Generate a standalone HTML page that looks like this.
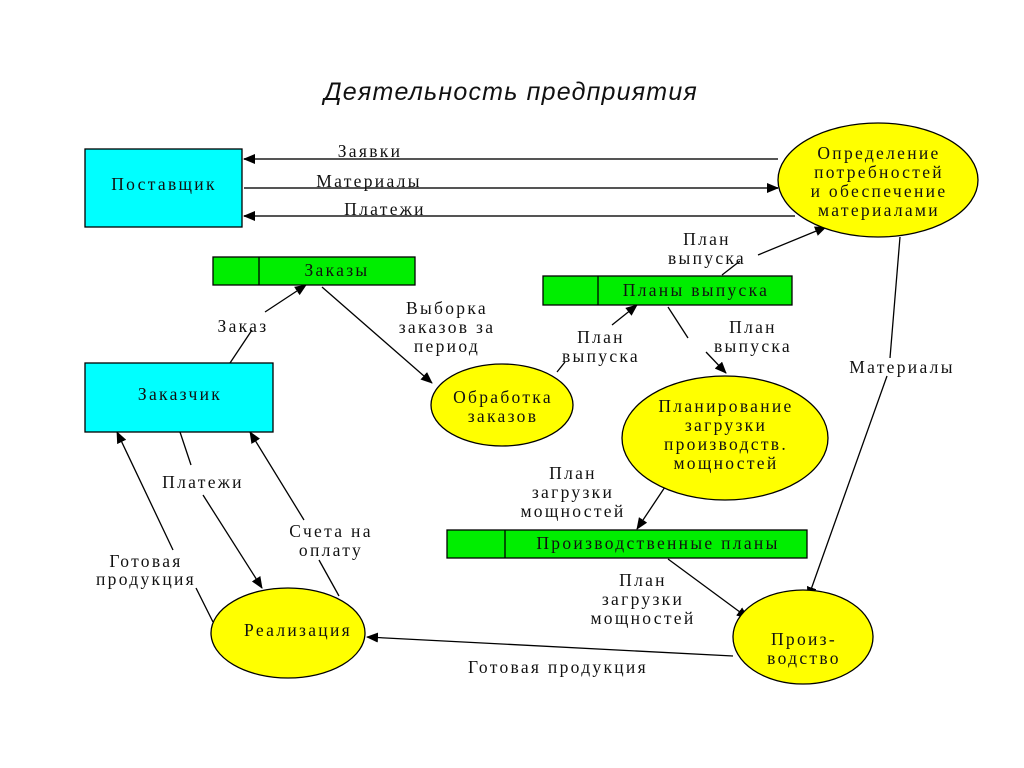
<!DOCTYPE html>
<html><head><meta charset="utf-8"><style>
html,body{margin:0;padding:0;background:#fff;}
svg{display:block;}
text{font-family:"Liberation Serif","DejaVu Serif",serif;font-size:17.5px;fill:#111;letter-spacing:2.3px;}
.t{font-family:"Liberation Sans",sans-serif;font-style:italic;font-size:25px;letter-spacing:1.2px;}
</style></head><body>
<svg width="1024" height="768" viewBox="0 0 1024 768">
<defs>
<marker id="a" markerWidth="12" markerHeight="10" refX="11" refY="5" orient="auto" markerUnits="userSpaceOnUse">
<path d="M0,0 L12,5 L0,10 z" fill="#000"/></marker>
</defs>
<text class="t" x="511" y="100" text-anchor="middle">Деятельность предприятия</text>

<g stroke="#000" stroke-width="1.3" fill="none">
<line x1="778" y1="159" x2="244" y2="159" marker-end="url(#a)" stroke="#555" stroke-width="2"/>
<line x1="244" y1="188" x2="778" y2="188" marker-end="url(#a)" stroke="#555" stroke-width="2"/>
<line x1="795" y1="216" x2="244" y2="216" marker-end="url(#a)" stroke="#555" stroke-width="2"/>
<polyline points="722,275 740,261"/>
<line x1="758" y1="255" x2="826" y2="227" marker-end="url(#a)"/>
<line x1="230" y1="363" x2="252" y2="330"/>
<line x1="265" y1="312" x2="306" y2="285" marker-end="url(#a)"/>
<line x1="322" y1="287" x2="432" y2="383" marker-end="url(#a)"/>
<line x1="557" y1="372" x2="565" y2="362"/>
<line x1="612" y1="325" x2="637" y2="305" marker-end="url(#a)"/>
<line x1="668" y1="307" x2="688" y2="338"/>
<line x1="706" y1="352" x2="726" y2="373" marker-end="url(#a)"/>
<line x1="900" y1="237" x2="890" y2="358"/>
<line x1="887" y1="376" x2="808" y2="598" marker-end="url(#a)"/>
<line x1="667" y1="484" x2="637" y2="529" marker-end="url(#a)"/>
<line x1="668" y1="559" x2="748" y2="618" marker-end="url(#a)"/>
<line x1="733" y1="656" x2="367" y2="637" marker-end="url(#a)"/>
<line x1="213" y1="622" x2="196" y2="588"/>
<line x1="173" y1="550" x2="117" y2="432" marker-end="url(#a)"/>
<line x1="180" y1="432" x2="191" y2="465"/>
<line x1="203" y1="495" x2="262" y2="588" marker-end="url(#a)"/>
<line x1="339" y1="596" x2="319" y2="560"/>
<line x1="304" y1="520" x2="250" y2="432" marker-end="url(#a)"/>
</g>

<g stroke="#000" stroke-width="1.3">
<rect x="85" y="149" width="157" height="78" fill="#00ffff"/>
<rect x="85" y="363" width="188" height="69" fill="#00ffff"/>
<rect x="213" y="257" width="202" height="28" fill="#00ee00"/>
<line x1="259" y1="257" x2="259" y2="285"/>
<rect x="543" y="276" width="249" height="29" fill="#00ee00"/>
<line x1="598" y1="276" x2="598" y2="305"/>
<rect x="447" y="530" width="360" height="28" fill="#00ee00"/>
<line x1="505" y1="530" x2="505" y2="558"/>
<ellipse cx="878" cy="180" rx="100" ry="57" fill="#ffff00"/>
<ellipse cx="502" cy="405" rx="71" ry="41" fill="#ffff00"/>
<ellipse cx="725" cy="438" rx="103" ry="62" fill="#ffff00"/>
<ellipse cx="288" cy="633" rx="77" ry="45" fill="#ffff00"/>
<ellipse cx="803" cy="637" rx="70" ry="47" fill="#ffff00"/>
</g>

<g text-anchor="middle">
<text x="164" y="190">Поставщик</text>
<text x="180" y="400">Заказчик</text>
<text x="337" y="276">Заказы</text>
<text x="696" y="296">Планы выпуска</text>
<text x="658" y="549">Производственные планы</text>
<text x="879" y="159">Определение</text>
<text x="879" y="178">потребностей</text>
<text x="879" y="197">и обеспечение</text>
<text x="879" y="216">материалами</text>
<text x="503" y="403">Обработка</text>
<text x="503" y="422">заказов</text>
<text x="726" y="412">Планирование</text>
<text x="726" y="431">загрузки</text>
<text x="726" y="450">производств.</text>
<text x="726" y="469">мощностей</text>
<text x="298" y="636">Реализация</text>
<text x="804" y="645">Произ-</text>
<text x="804" y="664">водство</text>

<text x="370" y="157">Заявки</text>
<text x="369" y="187">Материалы</text>
<text x="385" y="215">Платежи</text>
<text x="707" y="245">План</text>
<text x="707" y="264">выпуска</text>
<text x="243" y="332">Заказ</text>
<text x="447" y="314">Выборка</text>
<text x="447" y="333">заказов за</text>
<text x="447" y="352">период</text>
<text x="601" y="343">План</text>
<text x="601" y="362">выпуска</text>
<text x="753" y="333">План</text>
<text x="753" y="352">выпуска</text>
<text x="902" y="373">Материалы</text>
<text x="573" y="479">План</text>
<text x="573" y="498">загрузки</text>
<text x="573" y="517">мощностей</text>
<text x="643" y="586">План</text>
<text x="643" y="605">загрузки</text>
<text x="643" y="624">мощностей</text>
<text x="558" y="673">Готовая продукция</text>
<text x="203" y="488">Платежи</text>
<text x="146" y="567">Готовая</text>
<text x="146" y="585">продукция</text>
<text x="331" y="537">Счета на</text>
<text x="331" y="556">оплату</text>
</g>
</svg>
</body></html>
